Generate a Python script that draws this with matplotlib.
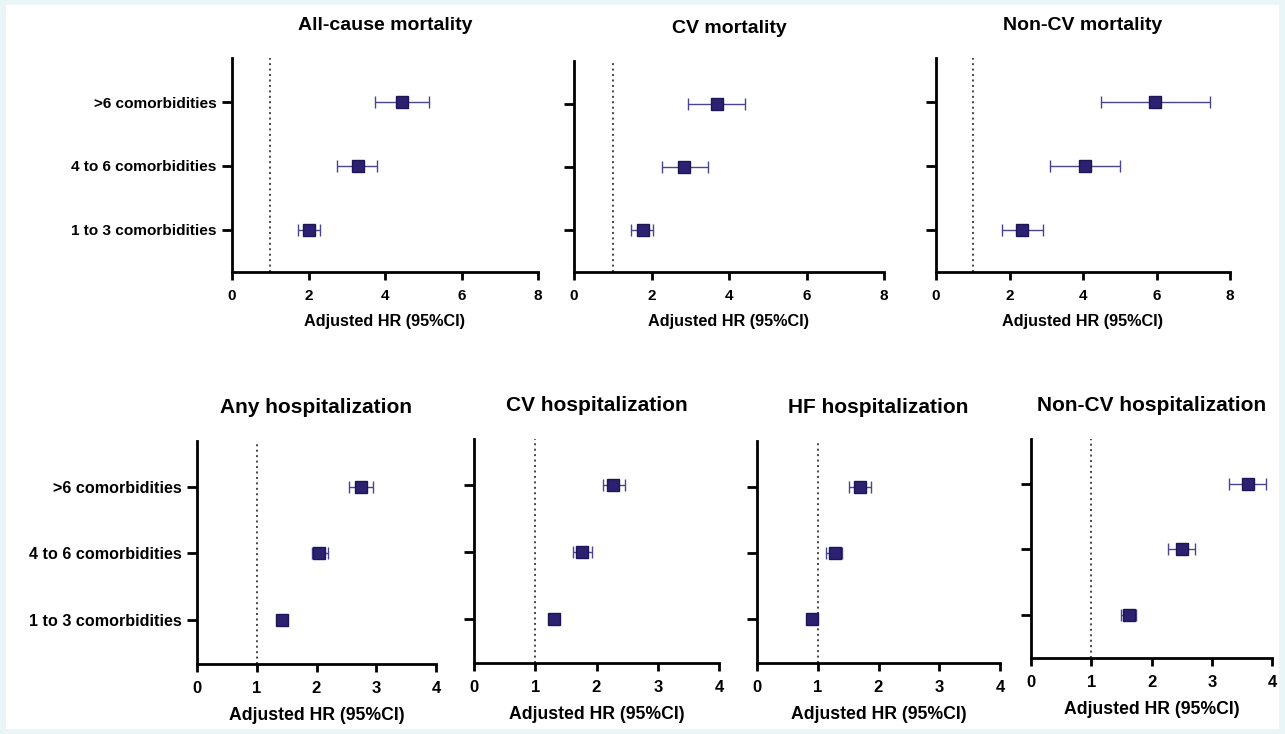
import matplotlib
matplotlib.use("Agg")
import matplotlib.pyplot as plt
from matplotlib.patches import Rectangle

plt.rcParams["font.family"] = ["Liberation Sans", "DejaVu Sans"]
plt.rcParams["font.weight"] = "bold"

groups = ["1 to 3 comorbidities", "4 to 6 comorbidities", ">6 comorbidities"]

titles = [
    "All-cause mortality", "CV mortality", "Non-CV mortality",
    "Any hospitalization", "CV hospitalization", "HF hospitalization",
    "Non-CV hospitalization",
]

# hazard ratios, order: 1-3, 4-6, >6
hr_allcause = [2.0, 3.3, 4.45]
lo_allcause = [1.72, 2.75, 3.75]
hi_allcause = [2.3, 3.8, 5.15]

hr_cv = [1.78, 2.85, 3.7]
lo_cv = [1.48, 2.28, 2.95]
hi_cv = [2.05, 3.45, 4.4]

hr_noncv = [2.35, 4.05, 5.95]
lo_noncv = [1.8, 3.1, 4.5]
hi_noncv = [2.9, 5.0, 7.45]

hr_anyhosp = [1.43, 2.05, 2.75]
lo_anyhosp = [1.36, 1.92, 2.55]
hi_anyhosp = [1.5, 2.2, 2.95]

hr_cvhosp = [1.3, 1.77, 2.27]
lo_cvhosp = [1.22, 1.62, 2.1]
hi_cvhosp = [1.38, 1.92, 2.47]

hr_hfhosp = [0.9, 1.28, 1.7]
lo_hfhosp = [0.83, 1.13, 1.52]
hi_hfhosp = [0.98, 1.4, 1.87]

hr_noncvhosp = [1.62, 2.5, 3.6]
lo_noncvhosp = [1.5, 2.28, 3.28]
hi_noncvhosp = [1.75, 2.72, 3.9]

series = [
    (hr_allcause, lo_allcause, hi_allcause),
    (hr_cv, lo_cv, hi_cv),
    (hr_noncv, lo_noncv, hi_noncv),
    (hr_anyhosp, lo_anyhosp, hi_anyhosp),
    (hr_cvhosp, lo_cvhosp, hi_cvhosp),
    (hr_hfhosp, lo_hfhosp, hi_hfhosp),
    (hr_noncvhosp, lo_noncvhosp, hi_noncvhosp),
]

xmax = [8, 8, 8, 4, 4, 4, 4]
xticks = [[0, 2, 4, 6, 8]] * 3 + [[0, 1, 2, 3, 4]] * 4
show_labels = [True, False, False, True, False, False, False]

# axes boxes in pixels: left, top, right, bottom
boxes = [
    (232, 58, 538, 272),
    (574, 61, 884, 272),
    (936, 58, 1230, 272),
    (197, 441, 436, 664),
    (474, 439, 719, 663),
    (757, 441, 1000, 663),
    (1031, 439, 1272, 658),
]

W, H = 1285, 734
fig = plt.figure(figsize=(W / 100, H / 100), dpi=100)
fig.patch.set_facecolor("#eaf5f8")
fig.add_artist(Rectangle((6 / W, 5 / H), (W - 12) / W, (H - 10) / H,
                         transform=fig.transFigure, facecolor="white",
                         edgecolor="none", zorder=-10))

marker_col = "#2b2170"
bar_col = "#4a4590"

for i, (l, t, r, b) in enumerate(boxes):
    top_row = i < 3
    ax = fig.add_axes([l / W, 1 - b / H, (r - l) / W, (b - t) / H])
    ax.set_facecolor("none")
    hr, lo, hi = series[i]
    y = list(range(len(groups)))
    err = [[h - a for h, a in zip(hr, lo)], [c - h for h, c in zip(hr, hi)]]
    ax.errorbar(hr, y, xerr=err, fmt="s", color=marker_col, ecolor=bar_col,
                elinewidth=1.0, capsize=4, capthick=1.0, markersize=8.5,
                markeredgecolor="#1d1656", zorder=3)
    ax.axvline(1, color="#444444", linestyle=(0, (1, 1.8)), linewidth=1.4, zorder=1)
    ax.set_xlim(0, xmax[i])
    ax.set_ylim(-0.66, 2.69)
    ax.set_xticks(xticks[i])
    ax.set_yticks(y)
    if show_labels[i]:
        ax.set_yticklabels(groups, fontsize=11.1 if top_row else 11.6, fontweight="bold")
    else:
        ax.set_yticklabels([])
    ax.tick_params(axis="x", labelsize=11 if top_row else 12, width=2, length=6, pad=6)
    ax.tick_params(axis="y", width=2, length=7, pad=4)
    for lab in ax.get_xticklabels():
        lab.set_fontweight("bold")
    for s in ("top", "right"):
        ax.spines[s].set_visible(False)
    for s in ("left", "bottom"):
        ax.spines[s].set_linewidth(2)
    ax.set_xlabel("Adjusted HR (95%CI)", fontsize=11.7 if top_row else 12.7,
                  fontweight="bold", labelpad=8)
    ax.set_title(titles[i], fontsize=14 if top_row else 15, fontweight="bold", pad=20)

fig.savefig("out.png", dpi=100, facecolor=fig.get_facecolor())
